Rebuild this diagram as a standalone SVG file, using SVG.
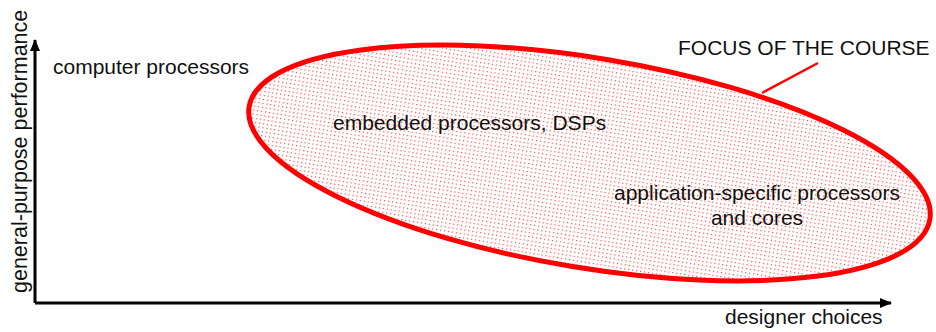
<svg xmlns="http://www.w3.org/2000/svg" width="936" height="332" viewBox="0 0 936 332">
<style>
text{font-family:"Liberation Sans",Arial,sans-serif;fill:#111;}
.ax{stroke:#000;stroke-width:3;fill:none;}
</style>
<defs>
<pattern id="dots" x="0" y="0" width="4" height="4" patternUnits="userSpaceOnUse">
<rect x="1" y="1" width="1.2" height="1.2" fill="#ff2020" opacity="0.85"/>
</pattern>
<marker id="ah" viewBox="0 0 12 10" refX="11" refY="5" markerWidth="12" markerHeight="10" markerUnits="userSpaceOnUse" orient="auto">
<path d="M0,0 L12,5 L0,10 Z" fill="#000"/>
</marker>
</defs>
<g id="focus-region">
<ellipse cx="589.5" cy="163" rx="345" ry="105" transform="rotate(9.4 589.5 163)" fill="url(#dots)" stroke="#ff0000" stroke-width="5"/>
</g>
<g id="connectors">
<line class="ax" x1="35" y1="303" x2="35" y2="40" marker-end="url(#ah)"/>
<line class="ax" x1="35" y1="303" x2="891" y2="303" marker-end="url(#ah)"/>
<line x1="762" y1="93" x2="818" y2="63" stroke="#ff0000" stroke-width="2.5"/>
</g>
<g id="y-label"><text transform="translate(27,293) rotate(-90)" font-size="21.5">general-purpose performance</text></g>
<g id="x-label"><text x="725" y="324" font-size="21">designer choices</text></g>
<g id="computer"><text x="53" y="74" font-size="21">computer processors</text></g>
<g id="embedded"><text x="333" y="130" font-size="21">embedded processors, DSPs</text></g>
<g id="asp"><text x="757" y="200" font-size="21" text-anchor="middle">application-specific processors</text><text x="757" y="225" font-size="21" text-anchor="middle">and cores</text></g>
<g id="focus-label"><text x="678" y="55" font-size="21">FOCUS OF THE COURSE</text></g>
</svg>
